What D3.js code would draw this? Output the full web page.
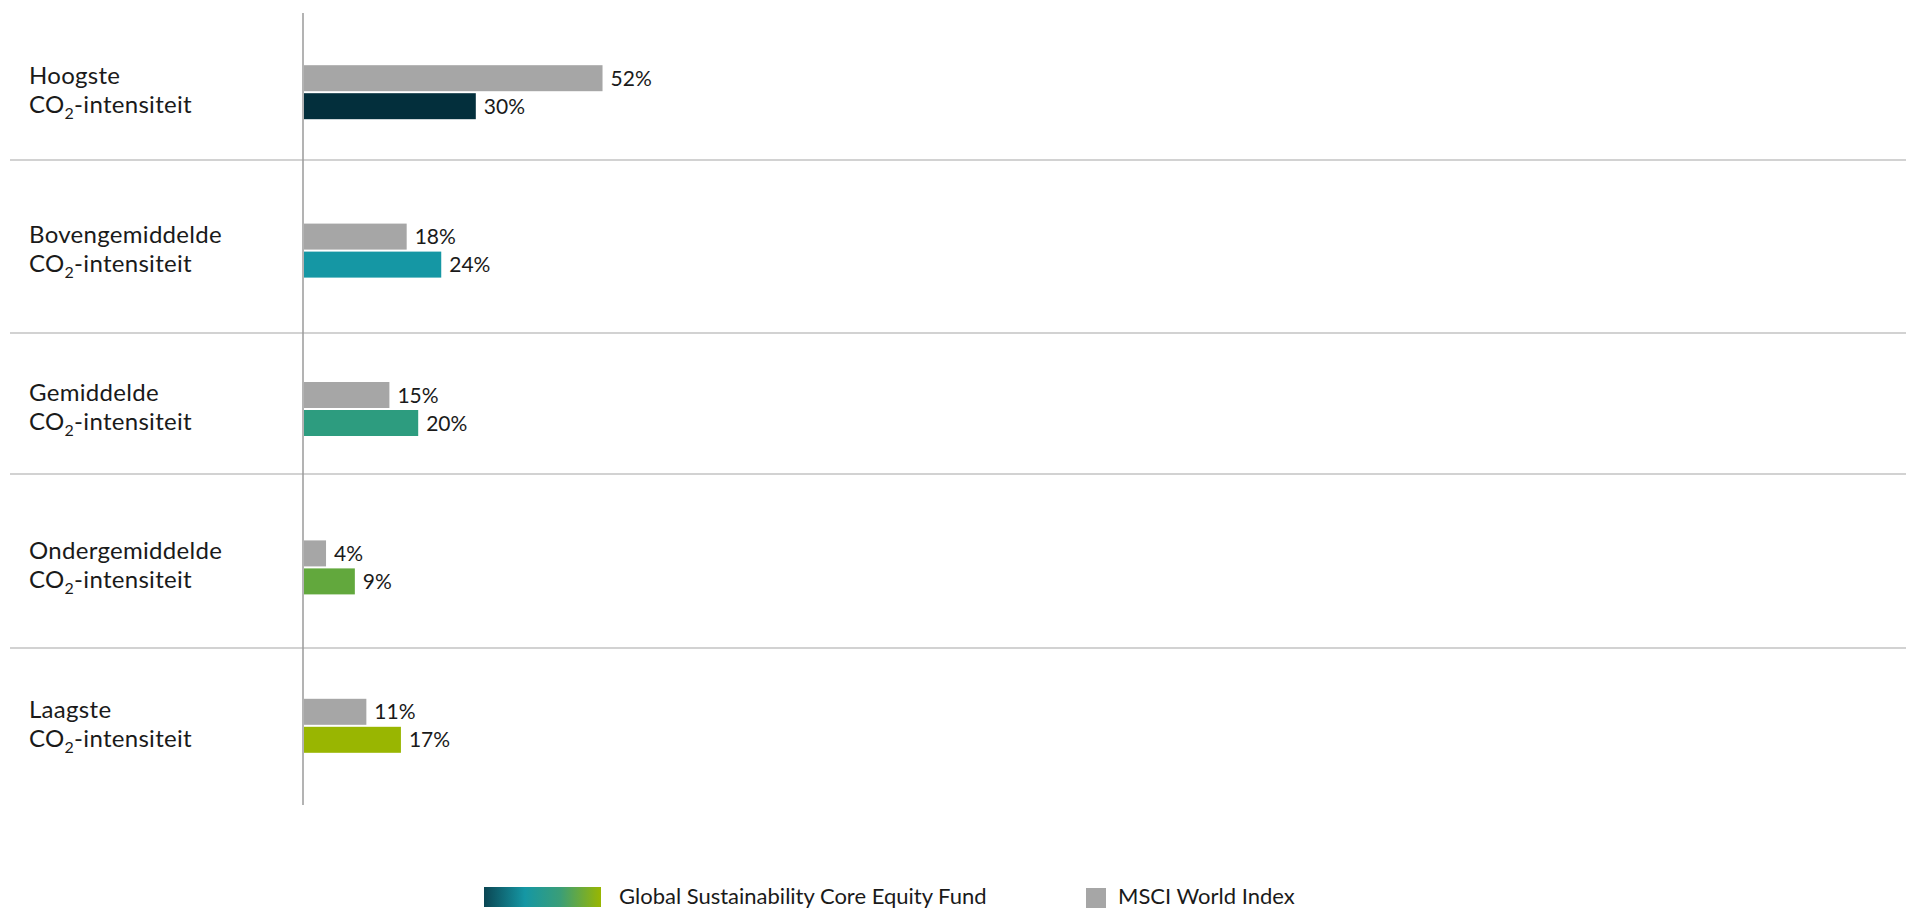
<!DOCTYPE html>
<html>
<head>
<meta charset="utf-8">
<script src="https://cdn.jsdelivr.net/npm/d3@7"></script>
<style>
  html, body { margin: 0; padding: 0; background: #ffffff; }
  svg { display: block; }
  text { font-family: Lato, "Open Sans", sans-serif; fill: #1a1a1a; }
</style>
</head>
<body>
<svg id="chart" width="1906" height="908"></svg>
<script>
// Carbon-intensity buckets (top to bottom)
const categories = ["Hoogste", "Bovengemiddelde", "Gemiddelde", "Ondergemiddelde", "Laagste"];
const categorySuffix = "-intensiteit";

// Share of portfolio (%) per bucket
const indexValues = [52, 18, 15, 4, 11];   // MSCI World Index
const fundValues  = [30, 24, 20, 9, 17];   // Global Sustainability Core Equity Fund

// Fund bar colours per bucket
const fundColors = ["#032f3c", "#1597a4", "#2d9c7f", "#62a83d", "#99b601"];
const indexColor = "#a6a6a6";

// Legend entries
const legendLabels = ["Global Sustainability Core Equity Fund", "MSCI World Index"];

// ---- layout ----
const W = 1906, H = 908;
const axisX = 303;
const pxPerPct = 5.76;
const rowsTop = 13, rowsBottom = 805;
const barH = 26, barGap = 2;
const dividerShift = [-11.4, 3.2, -14.2, 1.4];

const svg = d3.select("#chart");

const x = d3.scaleLinear().domain([0, 100]).range([axisX, axisX + 100 * pxPerPct]);
const y = d3.scaleBand().domain(categories).range([rowsTop, rowsBottom]).paddingInner(0).paddingOuter(0);
const center = c => y(c) + y.bandwidth() / 2;

// gradient for the fund legend swatch
const defs = svg.append("defs");
const grad = defs.append("linearGradient").attr("id", "fundGrad")
  .attr("x1", "0%").attr("x2", "100%").attr("y1", "0%").attr("y2", "0%");
[["0%", "#0b4653"], ["35%", "#1597a4"], ["65%", "#3a9e78"], ["100%", "#99b601"]]
  .forEach(([o, c]) => grad.append("stop").attr("offset", o).attr("stop-color", c));

// row separators
const boundaries = categories.slice(1).map((c, i) => y(c) + dividerShift[i]);
svg.append("g").selectAll("line").data(boundaries).join("line")
  .attr("x1", 10).attr("x2", W)
  .attr("y1", d => d).attr("y2", d => d)
  .attr("stroke", "#d2d2d2").attr("stroke-width", 2);

// vertical baseline
svg.append("line")
  .attr("x1", x(0)).attr("x2", x(0))
  .attr("y1", rowsTop).attr("y2", rowsBottom)
  .attr("stroke", "#9a9a9a").attr("stroke-width", 1.5);

// bars
const rows = categories.map((c, i) => ({ c, idx: indexValues[i], fund: fundValues[i], color: fundColors[i] }));

const bars = svg.append("g");
bars.selectAll("rect.idx").data(rows).join("rect").attr("class", "idx")
  .attr("x", x(0) + 1)
  .attr("y", d => center(d.c) - barGap / 2 - barH)
  .attr("width", d => x(d.idx) - x(0) - 1)
  .attr("height", barH)
  .attr("fill", indexColor);

bars.selectAll("rect.fund").data(rows).join("rect").attr("class", "fund")
  .attr("x", x(0) + 1)
  .attr("y", d => center(d.c) + barGap / 2)
  .attr("width", d => x(d.fund) - x(0) - 1)
  .attr("height", barH)
  .attr("fill", d => d.color);

// value labels
const labels = svg.append("g").attr("font-size", 21);
labels.selectAll("text.idx").data(rows).join("text").attr("class", "idx")
  .attr("x", d => x(d.idx) + 8)
  .attr("y", d => center(d.c) - barGap / 2 - barH / 2)
  .attr("dy", "0.36em")
  .text(d => d.idx + "%");
labels.selectAll("text.fund").data(rows).join("text").attr("class", "fund")
  .attr("x", d => x(d.fund) + 8)
  .attr("y", d => center(d.c) + barGap / 2 + barH / 2)
  .attr("dy", "0.36em")
  .text(d => d.fund + "%");

// category labels (two lines, with CO₂ subscript)
const cat = svg.append("g").attr("font-size", 24).attr("letter-spacing", 0.3);
const catG = cat.selectAll("g").data(categories).join("g");
catG.append("text")
  .attr("x", 29).attr("y", d => center(d) - 8)
  .text(d => d);
const line2 = catG.append("text")
  .attr("x", 29).attr("y", d => center(d) + 21);
line2.append("tspan").text("CO");
line2.append("tspan").attr("font-size", 16).attr("dy", 6).text("2");
line2.append("tspan").attr("dy", -6).text(categorySuffix);

// legend
const legend = svg.append("g").attr("font-size", 22);
legend.append("rect").attr("x", 484).attr("y", 887).attr("width", 117).attr("height", 20)
  .attr("fill", "url(#fundGrad)");
legend.append("text").attr("x", 619).attr("y", 904).text(legendLabels[0]);
legend.append("rect").attr("x", 1086).attr("y", 888).attr("width", 20).attr("height", 20)
  .attr("fill", indexColor);
legend.append("text").attr("x", 1118).attr("y", 904).text(legendLabels[1]);
</script>
</body>
</html>
